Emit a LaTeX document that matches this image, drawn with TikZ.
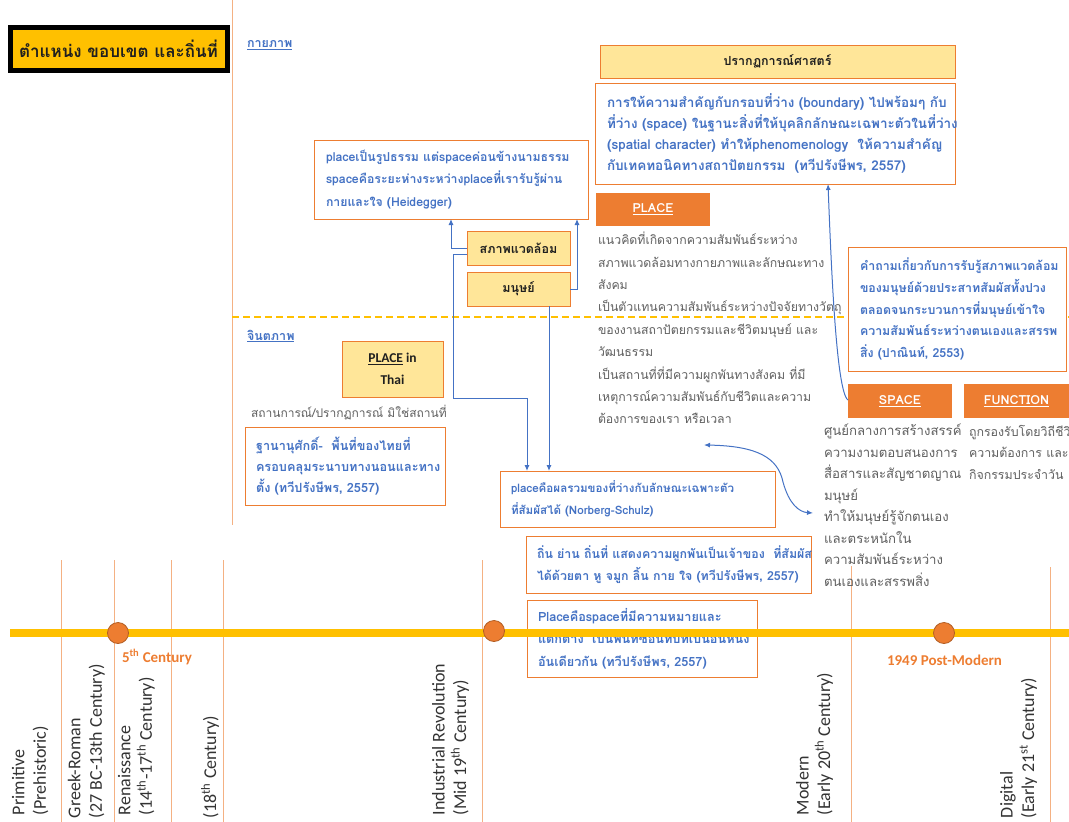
\documentclass[tikz,border=0pt]{standalone}
\usepackage{fontspec}
\setmainfont{Carlito}
\newfontfamily\thai[Script=Thai]{Loma}
\usetikzlibrary{arrows.meta,calc}
\definecolor{orng}{HTML}{ED7D31}
\definecolor{orngline}{HTML}{F4B183}
\definecolor{gold}{HTML}{FFC000}
\definecolor{pale}{HTML}{FFE699}
\definecolor{bluetx}{HTML}{4472C4}
\definecolor{graytx}{HTML}{5F5F5F}
\definecolor{darktx}{HTML}{1F1F1F}

\tikzset{
  every node/.style={inner sep=0pt, outer sep=0pt},
  % white note frame and its blue text
  notebox/.style={draw=orng, line width=1pt, fill=white, anchor=north west},
  notetext/.style={anchor=west, align=left, text=bluetx},
  bluefont/.style 2 args={font=\thai\bfseries\fontsize{#1}{#2}\selectfont},
  palebox/.style={draw=orng, line width=1pt, fill=pale, anchor=north west,
    align=center, text=darktx, font=\thai\bfseries\fontsize{12.5}{20}\selectfont},
  tagbox/.style={fill=orng, anchor=north west, align=center, text=white,
    font=\thai\bfseries\fontsize{12.5}{14}\selectfont},
  graytext/.style={anchor=north west, align=left, text=graytx},
  grayfont/.style 2 args={font=\thai\fontsize{#1}{#2}\selectfont},
  heading/.style={anchor=west, text=bluetx, font=\thai\bfseries\fontsize{12.5}{14}\selectfont},
  conn/.style={draw=bluetx, line width=1pt},
  arr/.style={conn, -{Latex[length=6pt,width=5pt]}},
  era/.style={rotate=90, anchor=north west, align=left, text=black!80,
    font=\fontsize{18}{21.5}\selectfont},
  divider/.style={draw=orngline, line width=1pt},
  dot/.style={circle, minimum size=21pt, fill=orng, draw=orng!75!black, line width=0.8pt},
  datelabel/.style={anchor=west, text=orng, font=\bfseries\fontsize{15}{17}\selectfont},
}

\begin{document}
\begin{tikzpicture}[x=1pt,y=-1pt]
\useasboundingbox (0,0) rectangle (1069,822);

% ---- frame lines ----
\coordinate (vTop) at (232,0);
\coordinate (vBot) at (232,525);
\draw[divider] (vTop) -- (vBot);
\coordinate (dashL) at (232,317);
\coordinate (dashR) at (1069,317);
\draw[gold, line width=1.2pt, dash pattern=on 7pt off 4pt] (dashL) -- (dashR);

% era separators
\foreach \x/\t in {61/560,114/560,171/560,223/560,482/560,851/566,1050/567}{
  \draw[divider] (\x,\t) -- (\x,822);
}

% ---- title ----
\node[draw=black, line width=5pt, fill=gold, anchor=north west,
  minimum width=217pt, minimum height=43pt, text=darktx,
  font=\thai\bfseries\fontsize{17}{20}\selectfont] (title) at (10,27)
  {ตำแหน่ง ขอบเขต และถิ่นที่};

\node[heading] (kaiyaphap) at (247,45) {\underline{กายภาพ}};
\node[heading] (chintaphap) at (247,336) {\underline{จินตภาพ}};

% ---- phenomenology ----
\node[palebox, minimum width=355pt, minimum height=33pt] (phenT) at (600,45)
  {ปรากฏการณ์ศาสตร์};
\node[notebox, minimum width=360pt, minimum height=101pt] (phenB) at (595,83) {};
\node[notetext, bluefont={13.5}{21}] (phenBtext) at ([xshift=12pt]phenB.west)
  {การให้ความสำคัญกับกรอบที่ว่าง (boundary) ไปพร้อมๆ กับ\\
   ที่ว่าง (space) ในฐานะสิ่งที่ให้บุคลิกลักษณะเฉพาะตัวในที่ว่าง\\
   (spatial character) ทำให้phenomenology \ ให้ความสำคัญ\\
   กับเทคทอนิคทางสถาปัตยกรรม \ (ทวีปรังษีพร, 2557)};

% ---- Heidegger ----
\node[notebox, minimum width=274pt, minimum height=79pt] (heid) at (314,140) {};
\node[notetext, bluefont={12.3}{22.5}] (heidtext) at ([xshift=12pt]heid.west)
  {placeเป็นรูปธรรม แต่spaceค่อนข้างนามธรรม\\
   spaceคือระยะห่างระหว่างplaceที่เรารับรู้ผ่าน\\
   กายและใจ (Heidegger)};

% ---- PLACE ----
\node[tagbox, minimum width=114pt, minimum height=33pt] (placeTag) at (596,193)
  {\underline{PLACE}};
\node[palebox, minimum width=103pt, minimum height=34pt] (env) at (467,231) {สภาพแวดล้อม};
\node[palebox, minimum width=103pt, minimum height=34pt] (man) at (467,272) {มนุษย์};
\node[graytext, grayfont={12.3}{22.4}] (ptext) at (598,232)
  {แนวคิดที่เกิดจากความสัมพันธ์ระหว่าง\\
   สภาพแวดล้อมทางกายภาพและลักษณะทาง\\
   สังคม\\
   เป็นตัวแทนความสัมพันธ์ระหว่างปัจจัยทางวัตถุ\\
   ของงานสถาปัตยกรรมและชีวิตมนุษย์ และ\\
   วัฒนธรรม\\
   เป็นสถานที่ที่มีความผูกพันทางสังคม ที่มี\\
   เหตุการณ์ความสัมพันธ์กับชีวิตและความ\\
   ต้องการของเรา หรือเวลา};

% ---- perception question ----
\node[notebox, minimum width=218pt, minimum height=124pt] (ask) at (848,247) {};
\node[notetext, bluefont={12.4}{21.8}] (asktext) at ([xshift=12pt]ask.west)
  {คำถามเกี่ยวกับการรับรู้สภาพแวดล้อม\\
   ของมนุษย์ด้วยประสาทสัมผัสทั้งปวง\\
   ตลอดจนกระบวนการที่มนุษย์เข้าใจ\\
   ความสัมพันธ์ระหว่างตนเองและสรรพ\\
   สิ่ง (ปาณินท์, 2553)};

% ---- SPACE / FUNCTION ----
\node[tagbox, minimum width=104pt, minimum height=34pt] (spaceTag) at (848,384) {\underline{SPACE}};
\node[tagbox, minimum width=105pt, minimum height=34pt] (funcTag) at (964,384) {\underline{FUNCTION}};
\node[graytext, grayfont={13.2}{21.5}] (stext) at (824,424)
  {ศูนย์กลางการสร้างสรรค์\\
   ความงามตอบสนองการ\\
   สื่อสารและสัญชาตญาณ\\
   มนุษย์\\
   ทำให้มนุษย์รู้จักตนเอง\\
   และตระหนักใน\\
   ความสัมพันธ์ระหว่าง\\
   ตนเองและสรรพสิ่ง};
\node[graytext, grayfont={12.4}{21.5}] (ftext) at (969,425)
  {ถูกรองรับโดยวิถีชีวิต\\
   ความต้องการ และ\\
   กิจกรรมประจำวัน};

% ---- PLACE in Thai ----
\node[palebox, minimum width=101pt, minimum height=56pt, font=\bfseries\fontsize{13.5}{22}\selectfont]
  (thaiTag) at (342,341) {\underline{PLACE} in\\Thai};
\node[graytext, grayfont={12}{14}] (situ) at (251,405) {สถานการณ์/ปรากฏการณ์ มิใช่สถานที่};
\node[notebox, minimum width=200pt, minimum height=78pt] (hier) at (245,427) {};
\node[notetext, bluefont={12.7}{21}] (hiertext) at ([xshift=11pt]hier.west)
  {ฐานานุศักดิ์- \ พื้นที่ของไทยที่\\
   ครอบคลุมระนาบทางนอนและทาง\\
   ตั้ง (ทวีปรังษีพร, 2557)};

% ---- Norberg-Schulz and senses ----
\node[notebox, minimum width=275pt, minimum height=56pt] (norb) at (500,471) {};
\node[notetext, bluefont={11.6}{22}] (norbtext) at ([xshift=11pt]norb.west)
  {placeคือผลรวมของที่ว่างกับลักษณะเฉพาะตัว\\
   ที่สัมผัสได้ (Norberg-Schulz)};
\node[notebox, minimum width=285pt, minimum height=57pt] (sense) at (526,536) {};
\node[notetext, bluefont={12.4}{22}] (sensetext) at ([xshift=11pt]sense.west)
  {ถิ่น ย่าน ถิ่นที่ แสดงความผูกพันเป็นเจ้าของ \ ที่สัมผัส\\
   ได้ด้วยตา หู จมูก ลิ้น กาย ใจ (ทวีปรังษีพร, 2557)};
\node[notebox, minimum width=230pt, minimum height=77pt] (mean) at (527,600) {};
\node[notetext, bluefont={12.7}{22.5}] (meantext) at ([xshift=11pt]mean.west)
  {Placeคือspaceที่มีความหมายและ\\
   แตกต่าง \ เป็นพื้นที่ซ้อนทับที่เป็นอันหนึ่ง\\
   อันเดียวกัน (ทวีปรังษีพร, 2557)};

% ---- connectors ----
\coordinate (xA) at (451,0);
\coordinate (xB) at (577,0);
\coordinate (bendC) at (453,398);
\coordinate (xC) at (527,0);
\coordinate (xD) at (549,0);
\coordinate (xE) at (828,0);
\draw[arr] (env.west) -| (xA |- heid.south);
\draw[arr] (man.east) -| (xB |- heid.south);
\draw[arr] ([yshift=-6pt]env.west) -| (bendC) -| (xC |- norb.north);
\draw[arr] (xD |- man.south) -- (xD |- norb.north);
\draw[arr] ([yshift=-16pt]spaceTag.north west) .. controls (836,392) and (831,260) .. (xE |- phenB.south);
\coordinate (linkA) at (704,445);
\coordinate (linkM) at (783,482);
\coordinate (linkB) at (813,513);
\draw[conn, {Latex[length=6pt,width=5pt]}-{Latex[length=6pt,width=5pt]}]
  (linkA) .. controls (758,446) and (778,458) .. (linkM)
          .. controls (789,504) and (799,512) .. (linkB);

% ---- timeline ----
\coordinate (tlL) at (10,633);
\coordinate (tlR) at (1069,633);
\draw[gold, line width=8pt] (tlL) -- (tlR);
\node[dot] (d1) at (118,633) {};
\node[dot] (d2) at (494,631) {};
\node[dot] (d3) at (944,633) {};
\node[datelabel] (c5) at (122,657) {5\textsuperscript{th} Century};
\node[datelabel] (pm) at (887,660) {1949 Post-Modern};

% ---- eras ----
\node[era] (e1) at (12,815) {Primitive\\(Prehistoric)};
\node[era] (e2) at (68,818) {Greek-Roman\\(27 BC-13th Century)};
\node[era] (e3) at (118,815) {Renaissance\\(14\textsuperscript{th}-17\textsuperscript{th} Century)};
\node[era] (e4) at (201,818) {(18\textsuperscript{th} Century)};
\node[era] (e5) at (432,815) {Industrial Revolution\\(Mid 19\textsuperscript{th} Century)};
\node[era] (e6) at (796,815) {Modern\\(Early 20\textsuperscript{th} Century)};
\node[era] (e7) at (1000,818) {Digital\\(Early 21\textsuperscript{st} Century)};
\end{tikzpicture}
\end{document}
